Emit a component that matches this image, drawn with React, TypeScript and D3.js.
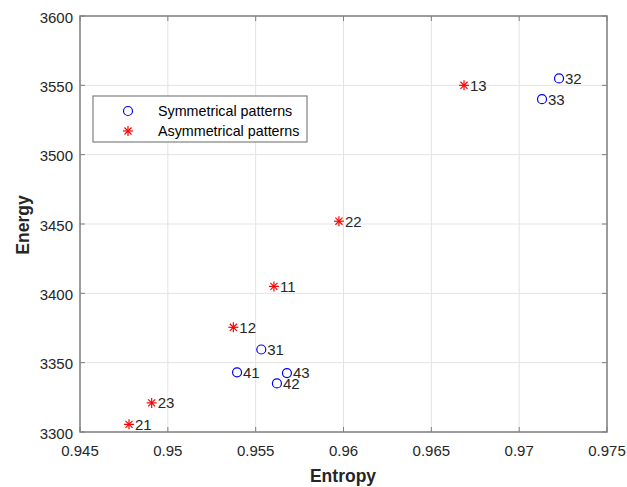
import React from "react";
import * as d3 from "d3";

const symLabels = ["32", "33", "31", "41", "43", "42"];
const symEntropy = [0.97227, 0.9713, 0.95532, 0.95394, 0.95678, 0.95621];
const symEnergy = [3555, 3540, 3359.5, 3343, 3342.5, 3335];

const asymLabels = ["13", "22", "11", "12", "23", "21"];
const asymEntropy = [0.96686, 0.95974, 0.95604, 0.95373, 0.94908, 0.94779];
const asymEnergy = [3550, 3452, 3405, 3375.5, 3321, 3305.5];

const xTicks = [0.945, 0.95, 0.955, 0.96, 0.965, 0.97, 0.975];
const yTicks = [3300, 3350, 3400, 3450, 3500, 3550, 3600];

const W = 627;
const H = 487;
const L = 80, R = 607, T = 16, B = 432;

export default function App() {
  const x = d3.scaleLinear().domain([0.945, 0.975]).range([L, R]);
  const y = d3.scaleLinear().domain([3300, 3600]).range([B, T]);
  const font = "Helvetica, Arial, 'Liberation Sans', sans-serif";
  const axisColor = "#808080";
  const textColor = "#262626";
  const tickLen = 5;

  const asterisk = (cx: number, cy: number, r: number, key: string) => {
    const d = r * 0.707;
    return (
      <g key={key} stroke="#ff0000" strokeWidth={1.2}>
        <line x1={cx - r} y1={cy} x2={cx + r} y2={cy} />
        <line x1={cx} y1={cy - r} x2={cx} y2={cy + r} />
        <line x1={cx - d} y1={cy - d} x2={cx + d} y2={cy + d} />
        <line x1={cx - d} y1={cy + d} x2={cx + d} y2={cy - d} />
      </g>
    );
  };

  return (
    <svg width={W} height={H} style={{ position: "absolute", left: 0, top: 0, background: "#fff" }} fontFamily={font}>
      <rect x={0} y={0} width={W} height={H} fill="#fff" />
      {/* grid */}
      {xTicks.map((t) => (
        <line key={"gx" + t} x1={x(t)} x2={x(t)} y1={T} y2={B} stroke="#e3e3e3" strokeWidth={1} />
      ))}
      {yTicks.map((t) => (
        <line key={"gy" + t} x1={L} x2={R} y1={y(t)} y2={y(t)} stroke="#e3e3e3" strokeWidth={1} />
      ))}
      {/* ticks */}
      {xTicks.map((t) => (
        <g key={"tx" + t} stroke={axisColor} strokeWidth={1}>
          <line x1={x(t)} x2={x(t)} y1={B} y2={B - tickLen} />
          <line x1={x(t)} x2={x(t)} y1={T} y2={T + tickLen} />
        </g>
      ))}
      {yTicks.map((t) => (
        <g key={"ty" + t} stroke={axisColor} strokeWidth={1}>
          <line x1={L} x2={L + tickLen} y1={y(t)} y2={y(t)} />
          <line x1={R} x2={R - tickLen} y1={y(t)} y2={y(t)} />
        </g>
      ))}
      {/* box */}
      <rect x={L} y={T} width={R - L} height={B - T} fill="none" stroke={axisColor} strokeWidth={1.5} />
      {/* tick labels */}
      {xTicks.map((t) => (
        <text key={"lx" + t} x={x(t)} y={B + 24} textAnchor="middle" fontSize={15} fill={textColor}>
          {String(t)}
        </text>
      ))}
      {yTicks.map((t) => (
        <text key={"ly" + t} x={L - 7} y={y(t) + 6.5} textAnchor="end" fontSize={15} fill={textColor}>
          {String(t)}
        </text>
      ))}
      {/* axis labels */}
      <text x={343} y={481.5} textAnchor="middle" fontSize={17.5} fontWeight="bold" fill={textColor}>
        Entropy
      </text>
      <text transform={`translate(29,225) rotate(-90)`} textAnchor="middle" fontSize={17.5} fontWeight="bold" fill={textColor}>
        Energy
      </text>
      {/* symmetric points */}
      {symEntropy.map((e, i) => (
        <g key={"s" + i}>
          <circle cx={x(e)} cy={y(symEnergy[i])} r={4.5} fill="none" stroke="#0000ff" strokeWidth={1.2} />
          <text x={x(e) + 6} y={y(symEnergy[i]) + 5.3} fontSize={15} fill={textColor}>
            {symLabels[i]}
          </text>
        </g>
      ))}
      {/* asymmetric points */}
      {asymEntropy.map((e, i) => (
        <g key={"a" + i}>
          {asterisk(x(e), y(asymEnergy[i]), 5, "ast" + i)}
          <text x={x(e) + 6} y={y(asymEnergy[i]) + 5.3} fontSize={15} fill={textColor}>
            {asymLabels[i]}
          </text>
        </g>
      ))}
      {/* legend */}
      <rect x={93} y={96} width={214} height={46} fill="#fff" stroke={axisColor} strokeWidth={1.2} />
      <circle cx={128} cy={111} r={4.5} fill="none" stroke="#0000ff" strokeWidth={1.2} />
      <text x={158} y={116} fontSize={14.3} fill="#000">Symmetrical patterns</text>
      {asterisk(128, 131, 5, "legast")}
      <text x={158} y={136} fontSize={14.3} fill="#000">Asymmetrical patterns</text>
    </svg>
  );
}
